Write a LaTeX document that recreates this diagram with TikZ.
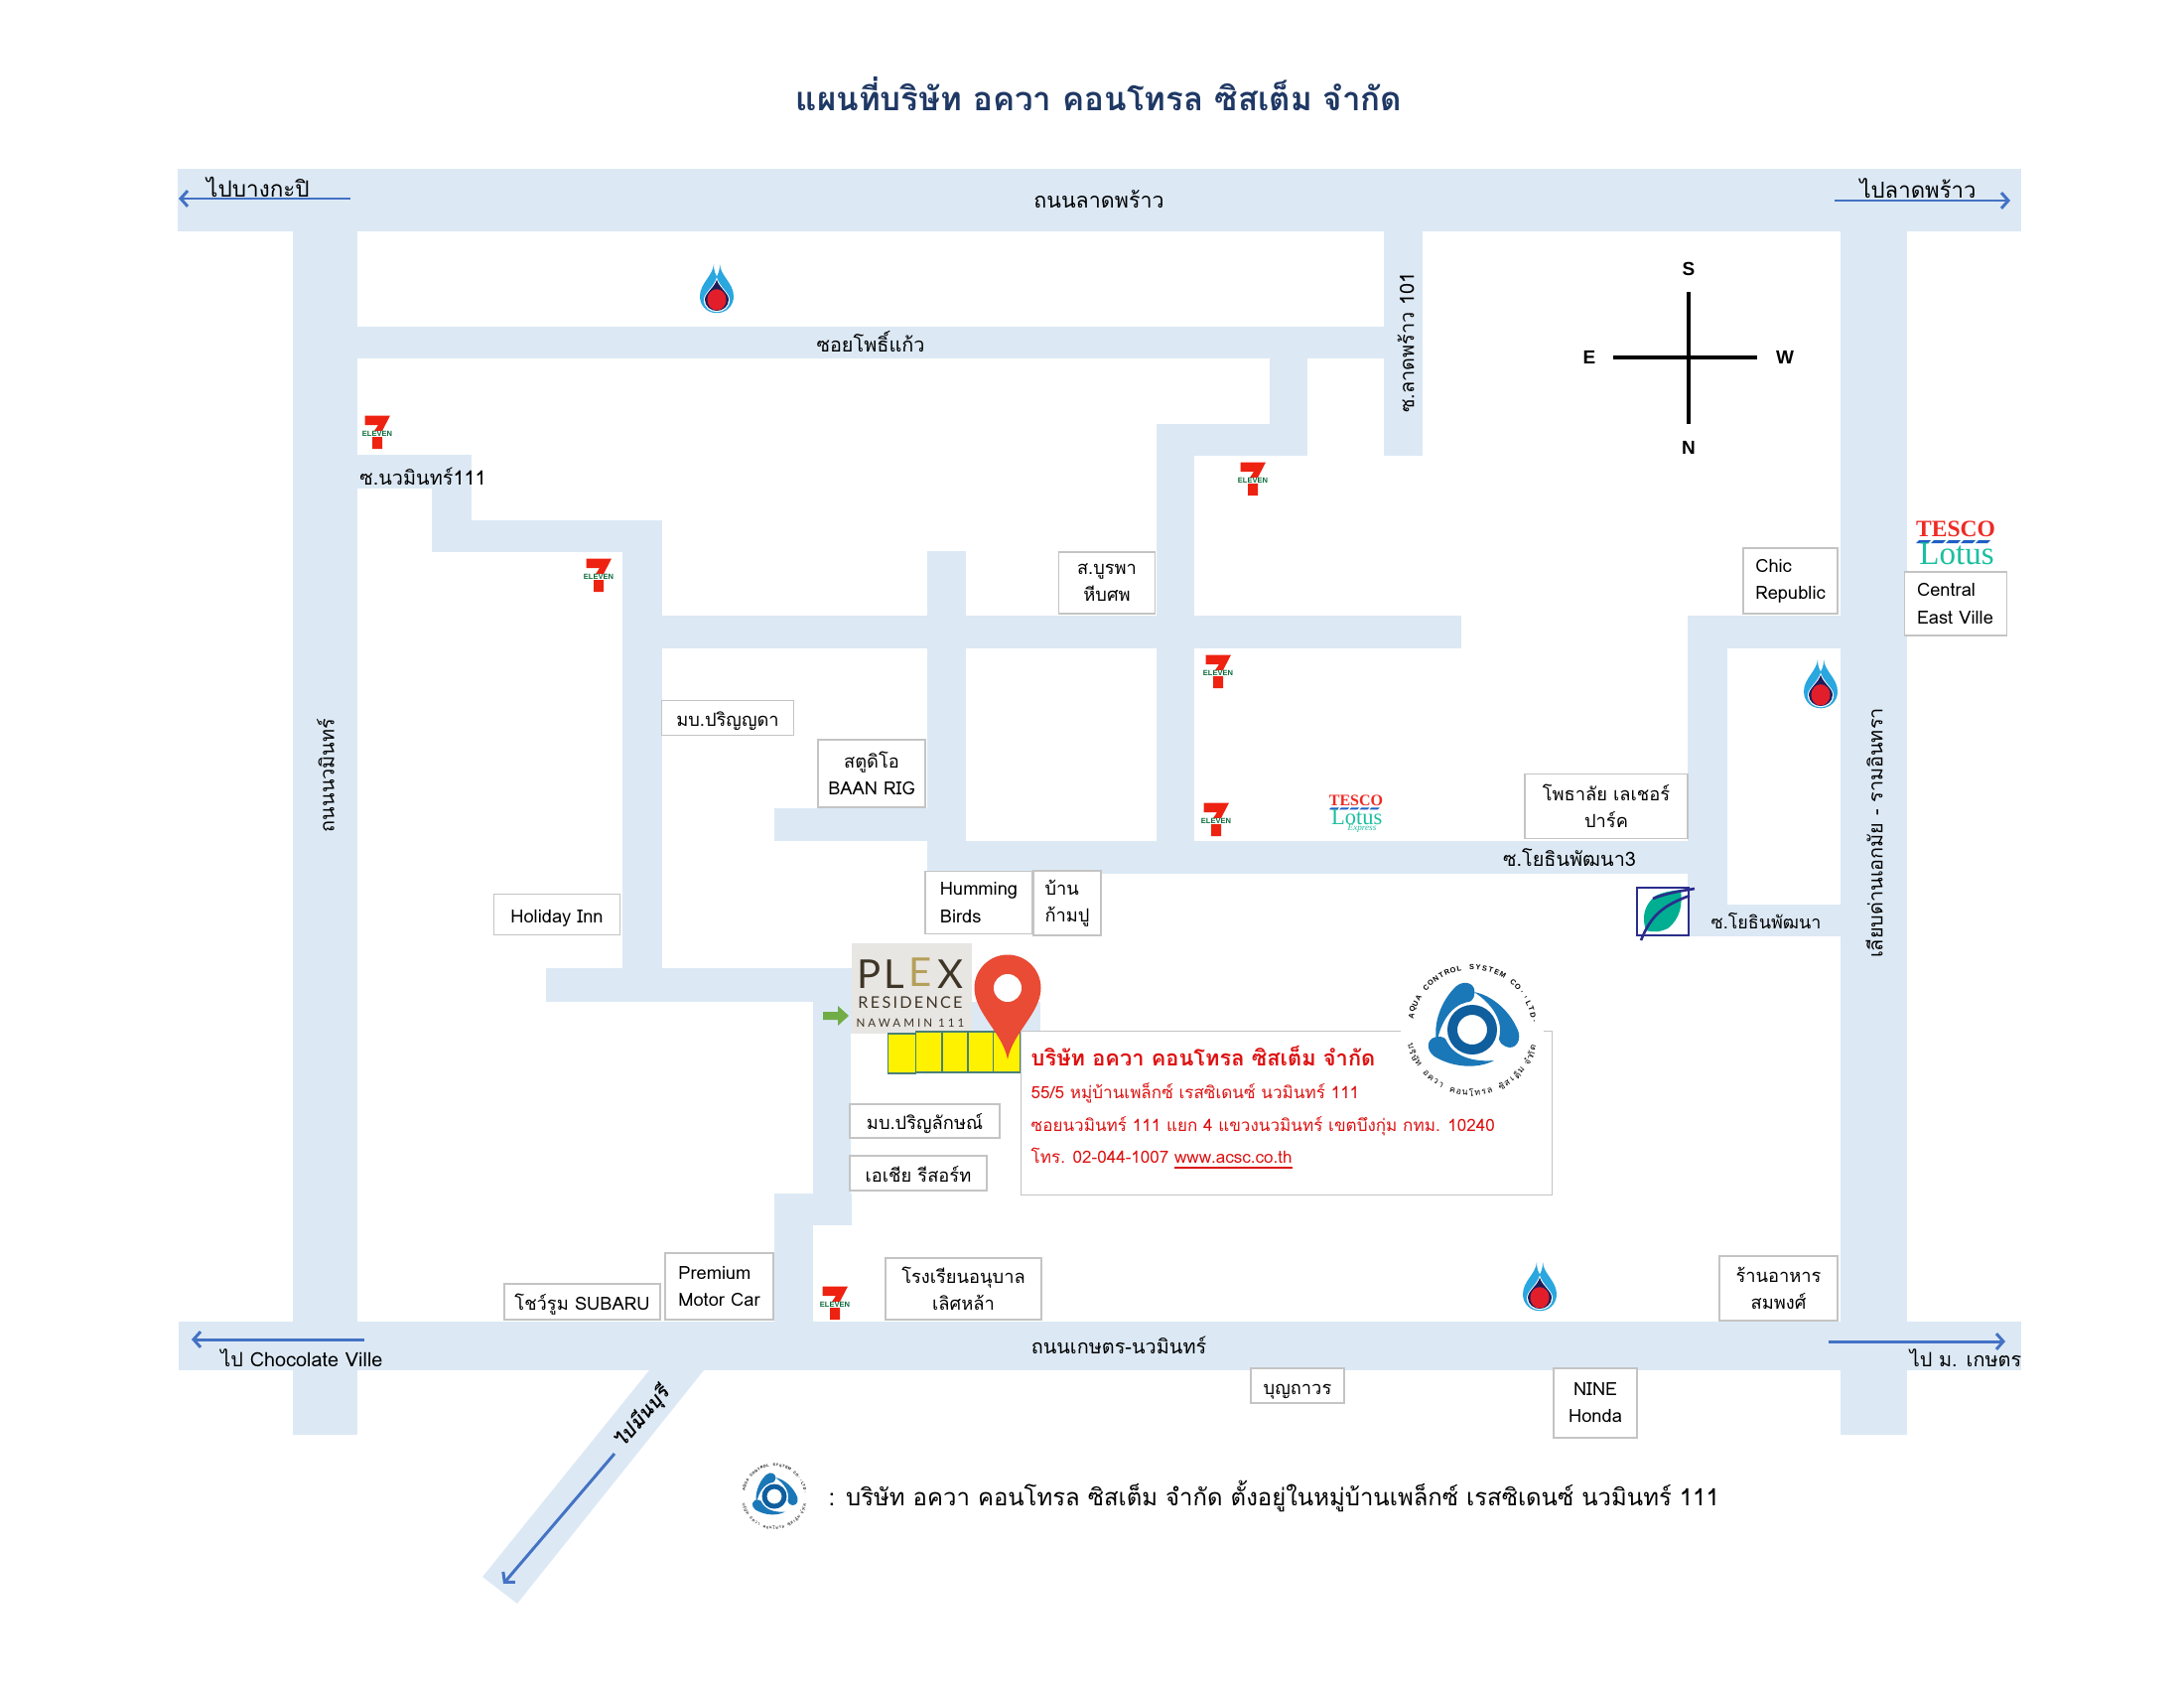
\documentclass[tikz,border=0pt]{standalone}
\usepackage{fontspec}
\setmainfont[Script=Thai]{Loma}
\newfontfamily\brandserif{Liberation Serif}
\newfontfamily\brandsans{Liberation Sans}
\newfontfamily\plexfont{Lato}
\newfontfamily\plexwide[LetterSpace=14]{Lato}
\newfontfamily\plexwider[LetterSpace=26]{Lato}
\usepackage{xcolor}
\usepackage{tikz}
\usetikzlibrary{calc}
\usetikzlibrary{arrows.meta,positioning}

\definecolor{roadblue}{HTML}{DCE9F5}
\definecolor{arrowblue}{HTML}{4472C4}
\definecolor{arrowgreen}{HTML}{70AD47}
\definecolor{boxgray}{HTML}{C4C4C4}
\definecolor{titlenavy}{HTML}{1F3864}
\definecolor{addrred}{HTML}{DD1111}
\definecolor{sevenred}{HTML}{EE2211}
\definecolor{sevengreen}{HTML}{0B6B3A}
\definecolor{pttblue}{HTML}{2AA7DF}
\definecolor{pttnavy}{HTML}{1D1E5B}
\definecolor{pttred}{HTML}{E21E2A}
\definecolor{logoblue}{HTML}{1A78B8}
\definecolor{logodark}{HTML}{0F5E9E}
\definecolor{pinred}{HTML}{E94B35}
\definecolor{leafnavy}{HTML}{2B2D8C}
\definecolor{leafteal}{HTML}{00AE92}
\definecolor{plexgray}{HTML}{E8E6E3}
\definecolor{plexdark}{HTML}{3F3527}
\definecolor{plexgold}{HTML}{B5A05A}
\definecolor{tescored}{HTML}{EE2A24}
\definecolor{tescoblue}{HTML}{1F5FC4}
\definecolor{lotusteal}{HTML}{1CBFA0}
\definecolor{unitline}{HTML}{4A8078}

\newcommand{\labelfont}{\fontsize{5.2}{7.7}\selectfont}
\newcommand{\roadfont}{\fontsize{5.65}{7}\selectfont}
\newcommand{\lowtext}[1]{\smash{\raisebox{-2.5pt}{#1}}}

\tikzset{
    x=0.01cm, y=0.01cm,
    road/.style={fill=roadblue},
    placebox/.style 2 args={draw=boxgray, line width=.3pt, fill=white, minimum width=#1*0.01cm, minimum height=#2*0.01cm, inner sep=0pt, align=center, font=\labelfont},
    roadtext/.style={inner sep=0pt, font=\roadfont},
    unit/.style={draw=unitline, line width=.35pt, fill=yellow},
    dirarrow/.style={draw=arrowblue, line width=.85pt, -{Straight Barb[length=2pt,width=4.5pt]}},
    pics/seven/.style={code={
        \fill[sevenred] (-12.5,16.5) -- (13,16.5) -- (5,1) -- (5,-17) -- (-5,-17) -- (-5,-2) -- (1,7) -- (-12.5,7) -- cycle;
        \node[inner sep=.2pt, fill=white, text=sevengreen, font=\brandsans\bfseries\fontsize{2.15}{2.3}\selectfont] (-word) at (0,-2) {ELEVEN};
    }},
    pics/ptt/.style={code={
        \fill[pttblue] (-3,25) .. controls (-3,18) and (-1,16) .. (0,14) .. controls (1,16) and (3,18) .. (3,25) .. controls (4,14) and (17,8) .. (17,-4) .. controls (17,-13) and (9,-19) .. (0,-19) .. controls (-9,-19) and (-17,-13) .. (-17,-4) .. controls (-17,8) and (-4,14) .. (-3,25) -- cycle;
        \fill[white] (0,13) .. controls (3,4) and (13,-1) .. (13,-7) .. controls (13,-14) and (7,-18) .. (0,-18) .. controls (-7,-18) and (-13,-14) .. (-13,-7) .. controls (-13,-1) and (-3,4) .. (0,13) -- cycle;
        \fill[pttnavy] (0,11) .. controls (2,4) and (12,-1) .. (12,-7) .. controls (12,-13) and (6,-17) .. (0,-17) .. controls (-6,-17) and (-12,-13) .. (-12,-7) .. controls (-12,-1) and (-2,4) .. (0,11) -- cycle;
        \fill[pttred] (0,-7) circle (9.5);
    }},
    pics/tesco/.style={code={
        \node[inner sep=0pt, text=tescored, font=\brandserif\bfseries\fontsize{6.7}{8}\selectfont] (-top) at (0,12) {TESCO};
        \foreach \d in {-40,-25,-10,5,20} {
            \fill[tescoblue] (\d,-2) -- (\d+12,-2) -- (\d+15,1) -- (\d+3,1) -- cycle;
        }
        \node[inner sep=0pt, text=lotusteal, font=\brandserif\fontsize{9.4}{10}\selectfont] (-low) at (1,-13) {Lotus};
    }},
    pics/logo/.style={code={
        \fill[white] (0,0) circle (72);
        % three blades
        \foreach \r in {0,-105,-218} {
            \fill[logoblue, rotate=\r] (22,-31) .. controls (5,-40) and (-20,-38) .. (-38,-27) .. controls (-48,-20) and (-46,-6) .. (-32,-7) .. controls (-27,-8) and (-26,-10) .. (-25,-13) .. controls (-18,-26) and (0,-33) .. (22,-31) -- cycle;
        }
        \fill[logodark, even odd rule] (0,0) circle (25) (0,0) circle (15);
        % ring text
        \foreach \ch [count=\n] in {A,Q,U,A,{},C,O,N,T,R,O,L,{},S,Y,S,T,E,M,{},C,O,.,{,},L,T,D,.} {
            \pgfmathsetmacro{\a}{167-(\n-1)*5.9}
            \pgfmathsetmacro{\t}{\a-90}
            \node[inner sep=0pt, rotate=\t, font=\brandsans\bfseries\fontsize{2.1}{2.4}\selectfont] (-up\n) at (\a:63) {\ch};
        }
        \foreach \ch [count=\n] in {บ,ริ,ษั,ท,{},อ,ค,ว,า,{},ค,อ,น,โ,ท,ร,ล,{},ซิ,ส,เ,ต็,ม,{},จำ,กั,ด} {
            \pgfmathsetmacro{\a}{195+(\n-1)*5.7}
            \pgfmathsetmacro{\t}{\a-270}
            \node[inner sep=0pt, rotate=\t, font=\fontsize{2.5}{2.7}\selectfont] (-low\n) at (\a:64) {\ch};
        }
    }},
}

\begin{document}
\begin{tikzpicture}
    \useasboundingbox (0,0) rectangle (2200,-1700);

    %main roads
    \fill[road] (179,-170) rectangle (2036,-233);
    \fill[road] (295,-233) rectangle (360,-1445);
    \fill[road] (1854,-233) rectangle (1921,-1445);
    \fill[road] (180,-1331) rectangle (2036,-1380);
    \fill[road] (654,-1380) -- (709,-1380) -- (521,-1615) -- (486,-1588) -- cycle;

    %soi phokaew
    \fill[road] (360,-329) rectangle (1394,-361);
    \fill[road] (1394,-233) rectangle (1433,-459);
    \fill[road] (1279,-361) rectangle (1317,-459);
    \fill[road] (1165,-427) rectangle (1317,-459);
    \fill[road] (1165,-427) rectangle (1203,-880);

    %soi nawamin 111
    \fill[road] (360,-458) rectangle (475,-492);
    \fill[road] (435,-492) rectangle (475,-556);
    \fill[road] (435,-524) rectangle (667,-556);
    \fill[road] (627,-524) rectangle (667,-1009);
    \fill[road] (550,-975) rectangle (860,-1009);
    \fill[road] (819,-1009) rectangle (1048,-1041);
    \fill[road] (819,-1009) rectangle (857,-1234);
    \fill[road] (780,-1202) rectangle (858,-1234);
    \fill[road] (780,-1202) rectangle (819,-1331);

    %middle roads
    \fill[road] (667,-620) rectangle (1472,-653);
    \fill[road] (934,-555) rectangle (973,-880);
    \fill[road] (780,-814) rectangle (934,-847);
    \fill[road] (934,-847) rectangle (1700,-880);
    \fill[road] (1700,-620) rectangle (1740,-943);
    \fill[road] (1700,-620) rectangle (1854,-653);
    \fill[road] (1700,-911) rectangle (1854,-943);

    % title
    \node[text=titlenavy, inner sep=0pt, font=\bfseries\fontsize{9.4}{11}\selectfont] (title) at (1107,-95) {แผนที่บริษัท อควา คอนโทรล ซิสเต็ม จำกัด};

    % direction arrows
    \coordinate (tla) at (353,-200);
    \coordinate (tlb) at (180,-200);
    \coordinate (tra) at (1848,-202);
    \coordinate (trb) at (2025,-202);
    \coordinate (bla) at (367,-1349);
    \coordinate (blb) at (193,-1349);
    \coordinate (bra) at (1842,-1351);
    \coordinate (brb) at (2020,-1351);
    \coordinate (dga) at (619,-1464);
    \coordinate (dgb) at (507,-1595);
    \draw[dirarrow] (tla) -- (tlb);
    \draw[dirarrow] (tra) -- (trb);
    \draw[dirarrow] (bla) -- (blb);
    \draw[dirarrow] (bra) -- (brb);
    \draw[dirarrow] (dga) -- (dgb);

    % road names
    \node[roadtext, font=\fontsize{6.4}{7}\selectfont] (tolkp) at (260,-188) {ไปบางกะปิ};
    \node[roadtext, font=\fontsize{6.3}{7}\selectfont] (tolat) at (1932,-190) {ไปลาดพร้าว};
    \node[roadtext] (tochoc) at (304,-1368) {ไป Chocolate Ville};
    \node[roadtext] (toku) at (1980,-1368) {ไป ม. เกษตร};
    \node[roadtext, font=\fontsize{6.1}{7}\selectfont] (latphrao) at (1107,-201) {ถนนลาดพร้าว};
    \node[roadtext] (phokaew) at (877,-344) {ซอยโพธิ์แก้ว};
    \node[roadtext] (kaset) at (1127,-1355) {ถนนเกษตร-นวมินทร์};
    \node[roadtext] (soi111) at (426,-480) {ซ.นวมินทร์111};
    \node[roadtext, rotate=90] (lat101) at (1416,-345) {ซ.ลาดพร้าว 101};
    \node[roadtext, rotate=90] (nawamin) at (328,-781) {ถนนนวมินทร์};
    \node[roadtext, rotate=90] (liap) at (1888,-839) {เลียบด่านเอกมัย - รามอินทรา};
    \node[roadtext] (yothin3) at (1581,-864) {ซ.โยธินพัฒนา3};
    \node[roadtext, font=\fontsize{5.1}{7}\selectfont] (yothin) at (1779,-927) {ซ.โยธินพัฒนา};
    \node[roadtext, rotate=50, font=\roadfont\bfseries\itshape] (tomin) at (647,-1428) {ไปมีนบุรี};

    % compass
    \coordinate (cs) at (1701,-294);
    \coordinate (cn) at (1701,-427);
    \coordinate (ce) at (1625,-360);
    \coordinate (cw) at (1770,-360);
    \draw[line width=1.3pt] (cs) -- (cn);
    \draw[line width=1.3pt] (ce) -- (cw);
    \node[roadtext, font=\brandsans\bfseries\fontsize{5.4}{6}\selectfont] (south) at (1701,-271) {S};
    \node[roadtext, font=\brandsans\bfseries\fontsize{5.4}{6}\selectfont] (north) at (1701,-451) {N};
    \node[roadtext, font=\brandsans\bfseries\fontsize{5.4}{6}\selectfont] (east) at (1601,-360) {E};
    \node[roadtext, font=\brandsans\bfseries\fontsize{5.4}{6}\selectfont] (west) at (1798,-360) {W};

    % place boxes
    \node[placebox={97}{62}] (burapha) at (1115,-587) {ส.บูรพา\\หีบศพ};
    \node[placebox={95}{66}, align=left] (chic) at (1803.5,-585) {Chic\\Republic};
    \node[placebox={103}{64}, align=left] (central) at (1969.5,-608) {Central\\East Ville};
    \node[placebox={133}{35}] (parinyada) at (733,-723) {\lowtext{มบ.ปริญญดา}};
    \node[placebox={108}{68}] (baanrig) at (878,-779) {สตูดิโอ\\BAAN RIG};
    \node[placebox={164}{65}] (leisure) at (1618,-812) {โพธาลัย เลเชอร์\\ปาร์ค};
    \node[placebox={108}{63}, align=left] (humming) at (986,-909) {Humming\\Birds};
    \node[placebox={68}{65}, align=left] (kampu) at (1075,-909.5) {บ้าน\\ก้ามปู};
    \node[placebox={127}{41}] (holiday) at (561,-921) {\lowtext{Holiday Inn}};
    \node[placebox={151}{34}] (parinlak) at (931.5,-1129) {\lowtext{มบ.ปริญลักษณ์}};
    \node[placebox={138}{35}] (asia) at (925,-1181.5) {\lowtext{เอเชีย รีสอร์ท}};
    \node[placebox={157}{36}] (subaru) at (586.5,-1311) {\lowtext{โชว์รูม SUBARU}};
    \node[placebox={109}{67}, align=left] (premium) at (724.5,-1295.5) {Premium\\Motor Car};
    \node[placebox={157}{62}] (school) at (970.5,-1298) {โรงเรียนอนุบาล\\เลิศหล้า};
    \node[placebox={119}{65}] (sompong) at (1791.5,-1297.5) {ร้านอาหาร\\สมพงศ์};
    \node[placebox={94}{35}] (boonthavorn) at (1307,-1395.5) {\lowtext{บุญถาวร}};
    \node[placebox={84}{70}] (honda) at (1607,-1413) {NINE\\Honda};

    % plex logo
    \fill[plexgray] (858,-950) rectangle (979,-1041);
    \node[inner sep=0pt, text=plexdark, font=\plexfont\fontsize{11.4}{12}\selectfont] (plexp) at (876,-981) {P};
    \node[inner sep=0pt, text=plexdark, font=\plexfont\fontsize{11.4}{12}\selectfont] (plexl) at (901,-981) {L};
    \node[inner sep=0pt, text=plexgold, font=\plexfont\fontsize{11.4}{12}\selectfont] (plexe) at (927,-979) {E};
    \node[inner sep=0pt, text=plexdark, font=\plexfont\fontsize{11.4}{12}\selectfont] (plexx) at (957,-981) {X};
    \node[inner sep=0pt, text=plexdark, font=\plexwide\fontsize{4.6}{5}\selectfont] (plexres) at (917,-1010) {RESIDENCE};
    \node[inner sep=0pt, text=plexdark, font=\plexwider\fontsize{3.3}{4}\selectfont] (plexnaw) at (917,-1030) {NAWAMIN 111};
    \fill[arrowgreen] (829,-1019) -- (844,-1019) -- (844,-1013) -- (855,-1023) -- (844,-1033) -- (844,-1027) -- (829,-1027) -- cycle;

    % yellow units
    \draw[unit] (894.5,-1041) rectangle (922.5,-1081);
    \draw[unit] (922.5,-1039) rectangle (949,-1080);
    \draw[unit] (949,-1039) rectangle (975,-1080);
    \draw[unit] (975,-1039) rectangle (1000.5,-1080);
    \draw[unit] (1000.5,-1039) rectangle (1027.5,-1080);

    % pin
    \fill[pinred] (1015,-1067) .. controls (1010,-1040) and (981.5,-1020) .. (981.5,-995) arc (180:0:33.5) .. controls (1048.5,-1020) and (1020,-1040) .. (1015,-1067) -- cycle;
    \fill[white] (1015,-995) circle (14);

    % address
    \node[draw=boxgray, line width=.3pt, fill=white, minimum width=5.34cm, minimum height=1.64cm, inner sep=0pt] (addr) at (1296,-1121) {};
    \pic (acsc) at (1483,-1037) {logo};
    \node[anchor=west, inner sep=0pt, text=addrred, font=\bfseries\fontsize{6.2}{8}\selectfont] (addra) at (1038,-1063) {บริษัท อควา คอนโทรล ซิสเต็ม จำกัด};
    \node[anchor=west, inner sep=0pt, text=addrred, font=\fontsize{4.85}{6}\selectfont] (addrb) at (1038,-1101) {55/5 หมู่บ้านเพล็กซ์ เรสซิเดนซ์ นวมินทร์ 111};
    \node[anchor=west, inner sep=0pt, text=addrred, font=\fontsize{4.85}{6}\selectfont] (addrc) at (1038,-1134) {ซอยนวมินทร์ 111 แยก 4 แขวงนวมินทร์ เขตบึงกุ่ม กทม. 10240};
    \node[anchor=west, inner sep=0pt, text=addrred, font=\fontsize{4.85}{6}\selectfont] (addrd) at (1038,-1167) {โทร. 02-044-1007 \underline{www.acsc.co.th}};

    % seven eleven
    \pic (seva) at (380,-435) {seven};
    \pic (sevb) at (603,-579) {seven};
    \pic (sevc) at (1262,-482) {seven};
    \pic (sevd) at (1227,-676) {seven};
    \pic (seve) at (1225,-825) {seven};
    \pic (sevf) at (841,-1312) {seven};

    % ptt
    \pic[yscale=1.12] (ptta) at (722,-294) {ptt};
    \pic[yscale=1.12] (pttb) at (1834,-692) {ptt};
    \pic[yscale=1.12] (pttc) at (1551,-1299) {ptt};

    % tesco lotus
    \pic (tescoa) at (1970,-545) {tesco};
    \pic[scale=.68, transform shape] (tescob) at (1366,-814) {tesco};
    \node[inner sep=0pt, text=lotusteal, font=\brandserif\itshape\fontsize{2.6}{3}\selectfont] (express) at (1372,-834) {Express};

    % leaf
    \fill[leafteal] (1658,-937) .. controls (1654,-925) and (1655,-912) .. (1668,-902) .. controls (1676,-898) and (1686,-897) .. (1693,-896) .. controls (1695,-910) and (1693,-925) .. (1680,-935) .. controls (1672,-939) and (1664,-939) .. (1658,-937) -- cycle;
    \draw[leafnavy, line width=.75pt] (1649,-894) rectangle (1701,-942);
    \draw[leafnavy, line width=.75pt] (1653,-947) .. controls (1663,-922) and (1675,-912) .. (1702,-902);
    \draw[leafnavy, line width=.75pt] (1665,-905) .. controls (1680,-899) and (1695,-897) .. (1707,-895);

    % legend
    \pic[scale=.5, transform shape] (acscb) at (780,-1507) {logo};
    \node[anchor=west, inner sep=0pt, font=\fontsize{6.8}{8}\selectfont] (legend) at (834,-1507) {: บริษัท อควา คอนโทรล ซิสเต็ม จำกัด ตั้งอยู่ในหมู่บ้านเพล็กซ์ เรสซิเดนซ์ นวมินทร์ 111};
\end{tikzpicture}
\end{document}
